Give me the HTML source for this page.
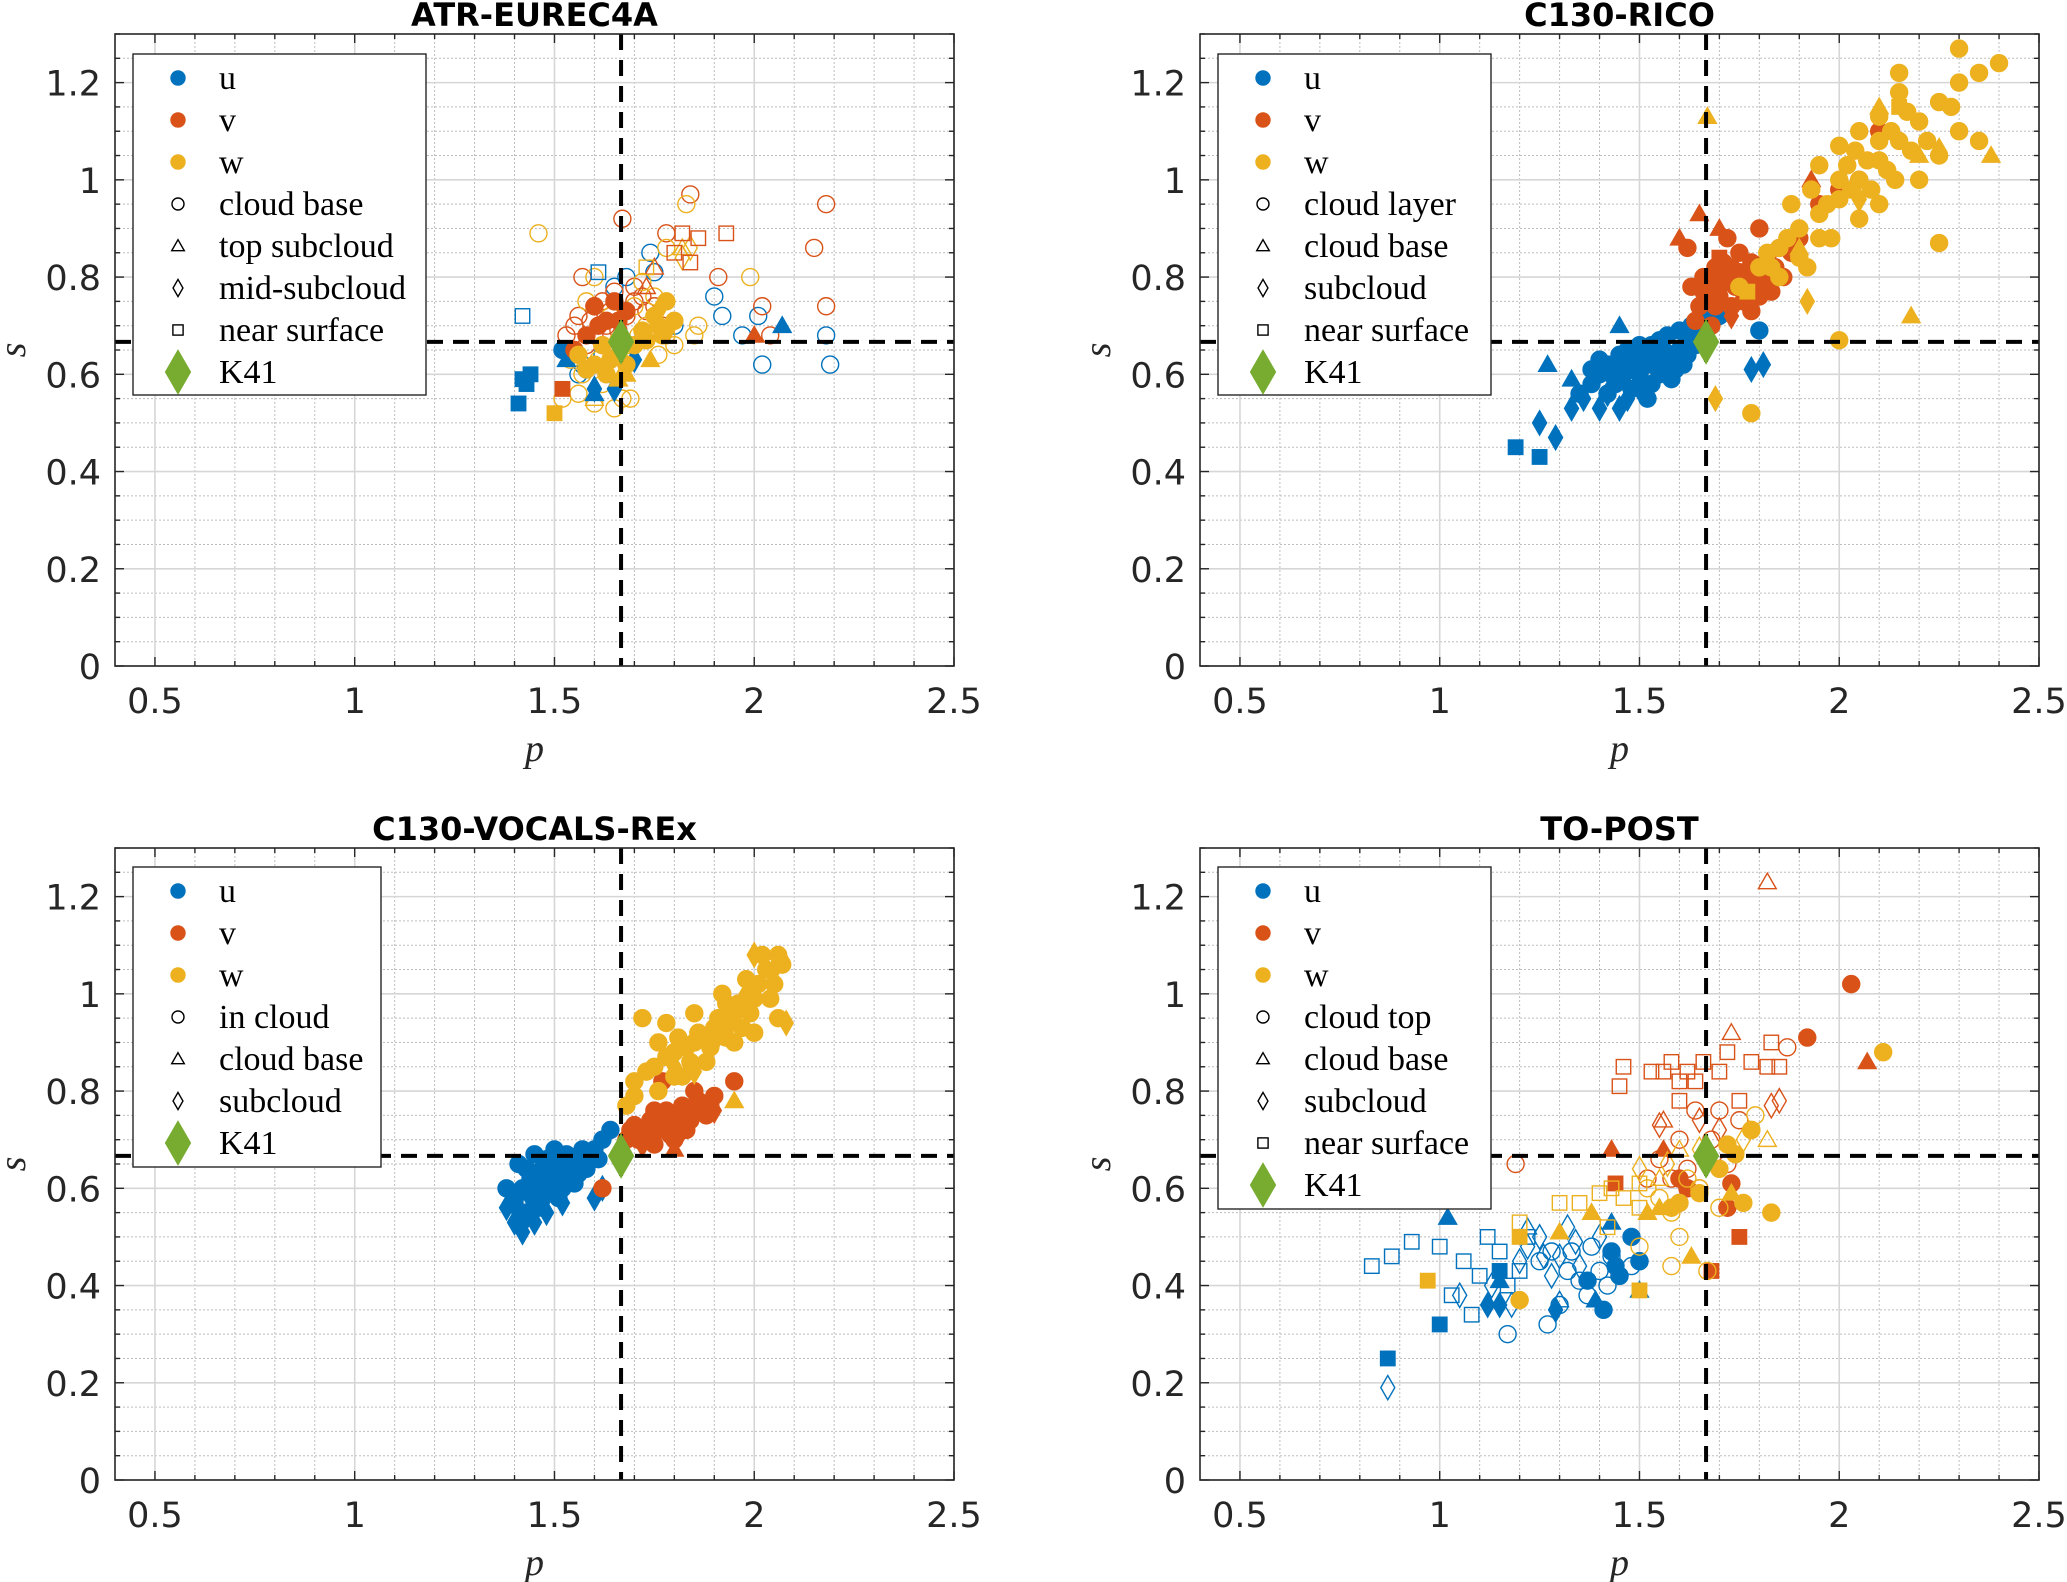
<!DOCTYPE html>
<html><head><meta charset="utf-8">
<style>
html,body{margin:0;padding:0;background:#fff;}
svg{display:block;}
</style></head>
<body>
<svg id="fig" width="2067" height="1582" xmlns="http://www.w3.org/2000/svg"></svg>
<script>
// ---------- DATA ----------
const atr_u_o=[[1.9,0.76],[1.92,0.72],[2.01,0.72],[2.02,0.62],[1.97,0.68],[2.18,0.68],[2.19,0.62],[1.74,0.85],[1.65,0.78],[1.68,0.80],[1.57,0.62],[1.56,0.6],[1.62,0.64],[1.75,0.81],[1.8,0.7]];
const atr_v_o=[[1.84,0.97],[1.78,0.89],[1.67,0.92],[2.18,0.95],[2.15,0.86],[2.18,0.74],[2.02,0.74],[2.04,0.68],[1.91,0.80],[1.57,0.80],[1.6,0.74],[1.65,0.77],[1.7,0.78],[1.72,0.76],[1.55,0.7],[1.53,0.68],[1.58,0.66],[1.63,0.7],[1.68,0.72],[1.75,0.74],[1.77,0.70],[1.6,0.68],[1.62,0.75],[1.66,0.69],[1.56,0.72],[1.59,0.71],[1.64,0.73],[1.7,0.75],[1.73,0.73]];
const atr_w_o=[[1.46,0.89],[1.83,0.95],[1.99,0.80],[1.78,0.86],[1.7,0.74],[1.73,0.7],[1.76,0.64],[1.8,0.66],[1.86,0.7],[1.85,0.68],[1.6,0.8],[1.58,0.75],[1.62,0.58],[1.65,0.53],[1.67,0.55],[1.69,0.55],[1.52,0.55],[1.56,0.56],[1.6,0.54],[1.75,0.76],[1.72,0.79],[1.64,0.72],[1.69,0.66],[1.54,0.63],[1.57,0.6],[1.61,0.63],[1.66,0.67],[1.71,0.68],[1.78,0.68]];
const atr_w_t=[[1.82,0.86],[1.6,0.55]];
const atr_v_t=[[1.75,0.82],[1.73,0.78]];
const atr_w_d=[[1.84,0.86],[1.82,0.84]];
const atr_u_s=[[1.42,0.72],[1.61,0.81]];
const atr_v_s=[[1.8,0.85],[1.82,0.89],[1.86,0.88],[1.93,0.89],[1.84,0.83]];
const atr_w_s=[[1.73,0.82]];
const atr_u_S=[[1.41,0.54],[1.42,0.59],[1.44,0.6],[1.43,0.58]];
const atr_u_T=[[2.07,0.70],[1.53,0.63],[1.6,0.56]];
const atr_u_D=[[1.65,0.57],[1.6,0.57],[1.7,0.63]];
const atr_u_C=[[1.52,0.65],[1.58,0.61]];
const atr_v_S=[[1.52,0.57]];
const atr_v_T=[[2.0,0.68]];
const atr_v_C=[[1.6,0.74],[1.65,0.75],[1.63,0.71],[1.58,0.68],[1.55,0.65],[1.62,0.66],[1.68,0.73],[1.61,0.7],[1.66,0.71]];
const atr_w_S=[[1.5,0.52]];
const atr_w_C=[[1.6,0.62],[1.63,0.6],[1.66,0.64],[1.7,0.66],[1.72,0.69],[1.75,0.72],[1.78,0.75],[1.8,0.71],[1.77,0.68],[1.56,0.64],[1.58,0.61],[1.62,0.66],[1.64,0.63],[1.68,0.62],[1.73,0.67],[1.76,0.7]];
const atr_w_T=[[1.74,0.63],[1.66,0.59],[1.64,0.6],[1.68,0.6]];
const atr_w_D=[[1.76,0.73],[1.79,0.7]];

const rico_u_S=[[1.19,0.45],[1.25,0.43]];
const rico_u_D=[[1.25,0.5],[1.29,0.47],[1.33,0.53],[1.4,0.53],[1.45,0.53],[1.81,0.62],[1.78,0.61],[1.42,0.56],[1.5,0.57],[1.36,0.55],[1.47,0.55]];
const rico_u_T=[[1.27,0.62],[1.33,0.59],[1.45,0.7]];
const rico_u_C=[[1.35,0.56],[1.38,0.58],[1.4,0.6],[1.42,0.62],[1.44,0.58],[1.46,0.6],[1.48,0.63],[1.5,0.6],[1.52,0.62],[1.54,0.64],[1.56,0.61],[1.58,0.63],[1.6,0.65],[1.62,0.67],[1.64,0.66],[1.45,0.64],[1.5,0.66],[1.55,0.67],[1.48,0.57],[1.53,0.58],[1.58,0.59],[1.42,0.56],[1.6,0.69],[1.63,0.7],[1.66,0.72],[1.57,0.68],[1.52,0.55],[1.4,0.63],[1.47,0.61],[1.61,0.62],[1.8,0.69],[1.7,0.72],[1.43,0.6],[1.49,0.61],[1.51,0.64],[1.55,0.6],[1.59,0.61],[1.53,0.66],[1.47,0.65],[1.44,0.62],[1.56,0.65],[1.62,0.64],[1.65,0.68],[1.38,0.61]];
const rico_v_C=[[1.63,0.78],[1.66,0.8],[1.69,0.82],[1.72,0.79],[1.75,0.81],[1.78,0.83],[1.81,0.8],[1.84,0.82],[1.7,0.76],[1.73,0.74],[1.76,0.77],[1.8,0.76],[1.65,0.74],[1.68,0.7],[1.62,0.86],[1.85,0.86],[1.88,0.85],[1.9,0.88],[1.75,0.85],[1.72,0.88],[1.8,0.9],[1.95,0.95],[2.0,0.98],[2.05,1.0],[2.1,1.1],[1.78,0.73],[1.83,0.77],[1.67,0.76],[1.71,0.83],[1.64,0.71],[1.68,0.78],[1.74,0.78],[1.77,0.8],[1.7,0.8],[1.66,0.77],[1.73,0.82],[1.79,0.78],[1.82,0.84],[1.86,0.8],[1.69,0.74],[1.76,0.75]];
const rico_v_T=[[1.65,0.93],[1.6,0.88],[1.7,0.9],[1.93,1.0]];
const rico_v_S=[[1.7,0.84],[1.74,0.8]];
const rico_v_D=[[1.77,0.75],[1.82,0.79],[1.73,0.72]];
const rico_w_C=[[1.75,0.78],[1.8,0.82],[1.85,0.86],[1.9,0.9],[1.95,0.93],[2.0,0.96],[2.05,1.0],[2.1,1.04],[2.15,1.08],[2.2,1.12],[2.25,1.16],[2.3,1.2],[2.35,1.22],[2.4,1.24],[2.3,1.27],[2.15,1.18],[2.1,1.13],[2.05,1.1],[2.0,1.07],[1.95,1.03],[2.2,1.0],[2.25,1.05],[2.3,1.1],[2.35,1.08],[2.1,0.95],[2.05,0.92],[1.98,0.88],[1.92,0.82],[2.25,0.87],[2.0,0.67],[1.78,0.52],[2.15,1.22],[2.28,1.15],[1.88,0.95],[1.93,0.98],[2.12,1.02],[2.18,1.06],[1.85,0.8],[2.02,1.03],[2.08,0.98],[1.82,0.85],[1.87,0.88],[1.97,0.95],[2.03,0.98],[2.07,1.04],[2.13,1.1],[2.17,1.14],[2.22,1.08],[1.9,0.84],[1.95,0.88],[2.0,1.0],[2.04,1.06],[2.1,1.08],[2.14,1.0],[1.83,0.82]];
const rico_w_T=[[1.67,1.13],[2.18,0.72],[2.38,1.05],[2.1,1.15],[1.9,0.86],[2.2,1.05]];
const rico_w_D=[[1.69,0.55],[1.92,0.75],[2.25,1.06],[2.05,0.96]];
const rico_w_S=[[1.77,0.77],[2.15,1.15]];

const voc_u_C=[[1.45,0.58],[1.48,0.6],[1.5,0.62],[1.52,0.64],[1.55,0.66],[1.58,0.67],[1.6,0.68],[1.62,0.7],[1.64,0.72],[1.42,0.6],[1.44,0.62],[1.47,0.64],[1.5,0.66],[1.53,0.67],[1.56,0.63],[1.4,0.57],[1.43,0.55],[1.46,0.56],[1.49,0.59],[1.52,0.6],[1.55,0.61],[1.58,0.64],[1.61,0.66],[1.41,0.65],[1.45,0.67],[1.5,0.68],[1.38,0.6],[1.41,0.59],[1.44,0.6],[1.47,0.62],[1.5,0.63],[1.53,0.62],[1.56,0.65],[1.59,0.66],[1.43,0.64],[1.46,0.58],[1.48,0.66],[1.51,0.58],[1.54,0.64],[1.57,0.68]];
const voc_u_D=[[1.38,0.56],[1.4,0.53],[1.42,0.51],[1.45,0.53],[1.48,0.55],[1.6,0.58],[1.62,0.6],[1.44,0.58],[1.52,0.57],[1.41,0.55],[1.43,0.54],[1.47,0.57]];
const voc_v_C=[[1.68,0.7],[1.72,0.71],[1.76,0.72],[1.8,0.73],[1.84,0.74],[1.88,0.75],[1.7,0.73],[1.74,0.74],[1.78,0.76],[1.82,0.77],[1.86,0.78],[1.9,0.79],[1.75,0.69],[1.8,0.7],[1.62,0.6],[1.77,0.82],[1.85,0.8],[1.95,0.82],[1.71,0.7],[1.73,0.72],[1.77,0.73],[1.79,0.71],[1.83,0.72],[1.87,0.76],[1.81,0.75],[1.75,0.76],[1.69,0.72],[1.85,0.77],[1.89,0.77]];
const voc_v_T=[[1.8,0.68]];
const voc_v_D=[[1.72,0.69],[1.9,0.76],[1.82,0.72]];
const voc_w_C=[[1.68,0.77],[1.7,0.82],[1.75,0.85],[1.8,0.88],[1.85,0.9],[1.9,0.93],[1.95,0.96],[2.0,0.99],[2.05,1.02],[1.72,0.95],[1.78,0.94],[1.85,0.96],[1.92,1.0],[1.98,1.03],[2.03,1.05],[1.88,0.86],[1.95,0.9],[2.0,0.92],[2.06,0.95],[1.82,0.83],[1.76,0.8],[2.07,1.06],[2.02,1.08],[1.93,0.98],[1.86,0.92],[1.7,0.79],[1.73,0.84],[1.78,0.87],[1.83,0.89],[1.87,0.91],[1.91,0.95],[1.96,0.98],[2.01,1.02],[1.97,0.93],[1.93,0.91],[1.89,0.89],[1.84,0.86],[1.8,0.83],[2.04,0.99],[1.99,0.96],[1.94,0.94],[2.06,1.08],[1.81,0.91],[1.76,0.9]];
const voc_w_D=[[1.98,1.0],[2.05,1.05],[2.07,1.07],[2.0,1.08],[1.9,0.9],[1.8,0.85],[1.85,0.84],[2.08,0.94]];
const voc_w_T=[[1.95,0.78]];

const to_u_s=[[0.83,0.44],[0.88,0.46],[0.93,0.49],[1.0,0.48],[1.06,0.45],[1.03,0.38],[1.08,0.34],[1.12,0.5],[1.15,0.47],[1.17,0.4],[1.2,0.43],[1.1,0.42],[1.22,0.5]];
const to_u_d=[[0.87,0.19],[1.05,0.38],[1.18,0.36],[1.2,0.45],[1.25,0.5],[1.3,0.46],[1.35,0.44],[1.4,0.5],[1.28,0.42],[1.22,0.48],[1.32,0.52],[1.13,0.4],[1.26,0.46],[1.34,0.49]];
const to_u_o=[[1.17,0.3],[1.27,0.32],[1.3,0.36],[1.35,0.41],[1.4,0.43],[1.45,0.42],[1.48,0.44],[1.25,0.45],[1.33,0.47],[1.38,0.48],[1.43,0.46],[1.5,0.45],[1.37,0.38],[1.42,0.4],[1.28,0.47],[1.32,0.43]];
const to_u_t=[[1.22,0.52],[1.3,0.37],[1.5,0.39]];
const to_u_S=[[0.87,0.25],[1.0,0.32],[1.15,0.43]];
const to_u_T=[[1.02,0.54],[1.15,0.41],[1.39,0.37],[1.43,0.53]];
const to_u_D=[[1.12,0.36],[1.15,0.36],[1.29,0.35]];
const to_u_C=[[1.41,0.35],[1.45,0.42],[1.48,0.5],[1.5,0.45],[1.37,0.41],[1.43,0.47],[1.44,0.44]];
const to_v_s=[[1.46,0.85],[1.45,0.81],[1.53,0.84],[1.58,0.86],[1.62,0.84],[1.66,0.86],[1.7,0.84],[1.72,0.88],[1.78,0.86],[1.82,0.85],[1.83,0.9],[1.85,0.85],[1.6,0.82],[1.6,0.78],[1.75,0.78],[1.64,0.82],[1.56,0.84]];
const to_v_t=[[1.82,1.23],[1.73,0.92],[1.56,0.74]];
const to_v_d=[[1.55,0.73],[1.85,0.78],[1.83,0.77],[1.7,0.72],[1.65,0.74]];
const to_v_o=[[1.87,0.89],[1.19,0.65],[1.6,0.7],[1.55,0.66],[1.62,0.64],[1.68,0.7],[1.7,0.76],[1.72,0.65],[1.65,0.6],[1.58,0.62],[1.6,0.57],[1.52,0.62],[1.75,0.74],[1.64,0.76]];
const to_v_C=[[2.03,1.02],[1.92,0.91],[1.73,0.61],[1.72,0.56],[1.62,0.6],[1.6,0.62]];
const to_v_T=[[2.07,0.86],[1.43,0.68],[1.56,0.68]];
const to_v_S=[[1.44,0.61],[1.75,0.5],[1.68,0.43]];
const to_w_s=[[0.97,0.58],[1.2,0.53],[1.3,0.57],[1.35,0.57],[1.4,0.59],[1.43,0.6],[1.46,0.58],[1.5,0.56],[1.42,0.52],[1.5,0.61]];
const to_w_o=[[1.52,0.6],[1.55,0.58],[1.58,0.55],[1.62,0.62],[1.65,0.6],[1.7,0.56],[1.79,0.75],[1.78,0.72],[1.6,0.5],[1.58,0.44],[1.67,0.43],[1.5,0.48]];
const to_w_t=[[1.82,0.7],[1.6,0.68],[1.55,0.62]];
const to_w_d=[[1.5,0.64],[1.57,0.65],[1.65,0.68],[1.76,0.7]];
const to_w_C=[[2.11,0.88],[1.83,0.55],[1.78,0.72],[1.74,0.67],[1.76,0.57],[1.58,0.56],[1.6,0.57],[1.65,0.59],[1.2,0.37],[1.7,0.64],[1.72,0.69]];
const to_w_T=[[1.63,0.46],[1.73,0.59],[1.55,0.56],[1.52,0.55],[1.3,0.51],[1.38,0.55]];
const to_w_S=[[0.97,0.41],[1.2,0.5],[1.5,0.39]];

const xTicks=[0.5,1,1.5,2,2.5];
const xTickLabels=['0.5','1','1.5','2','2.5'];
const yTicks=[0,0.2,0.4,0.6,0.8,1,1.2];
const yTickLabels=['0','0.2','0.4','0.6','0.8','1','1.2'];
const k41=[5/3,2/3];

// ---------- DRAW ----------
const NS='http://www.w3.org/2000/svg';
const svg=document.getElementById('fig');
const COL={u:'#0072BD',v:'#D95319',w:'#EDB120'};
function el(tag,attrs,parent){const e=document.createElementNS(NS,tag);for(const k in attrs)e.setAttribute(k,attrs[k]);(parent||svg).appendChild(e);return e;}

function marker(g,shape,cx,cy,color,filled,sz){
  const fill=filled?color:'none', st=color;
  const r=sz||8;let e;
  if(shape==='o'){e=el('circle',{cx:cx,cy:cy,r:r,fill:fill,stroke:st,'stroke-width':1.4},g);}
  else if(shape==='s'){const h=r*0.85;e=el('rect',{x:cx-h,y:cy-h,width:2*h,height:2*h,fill:fill,stroke:st,'stroke-width':1.4},g);}
  else if(shape==='t'){const h=r*1.05;e=el('polygon',{points:`${cx},${cy-h} ${cx+h},${cy+h*0.75} ${cx-h},${cy+h*0.75}`,fill:fill,stroke:st,'stroke-width':1.4},g);}
  else if(shape==='d'){const h=r*1.1;e=el('polygon',{points:`${cx},${cy-h*1.3} ${cx+h*0.75},${cy} ${cx},${cy+h*1.3} ${cx-h*0.75},${cy}`,fill:fill,stroke:st,'stroke-width':1.4},g);}
  return e;
}

const panels=[
 {name:'atr-eurec4a',title:'ATR-EUREC4A',L:115,T:34,leg:{x:133,y:54,w:293,h:341},labels:['cloud base','top subcloud','mid-subcloud','near surface'],shapes:['o','t','d','s'],
  series:[['u','o',0,atr_u_o],['v','o',0,atr_v_o],['w','o',0,atr_w_o],['w','t',0,atr_w_t],['v','t',0,atr_v_t],['w','d',0,atr_w_d],['u','s',0,atr_u_s],['v','s',0,atr_v_s],['w','s',0,atr_w_s],
  ['u','s',1,atr_u_S],['u','t',1,atr_u_T],['u','d',1,atr_u_D],['u','o',1,atr_u_C],['v','s',1,atr_v_S],['v','t',1,atr_v_T],['v','o',1,atr_v_C],['w','s',1,atr_w_S],['w','o',1,atr_w_C],['w','t',1,atr_w_T],['w','d',1,atr_w_D]]},
 {name:'c130-rico',title:'C130-RICO',L:1200,T:34,leg:{x:1218,y:54,w:273,h:341},labels:['cloud layer','cloud base','subcloud','near surface'],shapes:['o','t','d','s'],
  series:[['u','s',1,rico_u_S],['u','d',1,rico_u_D],['u','t',1,rico_u_T],['u','o',1,rico_u_C],['v','o',1,rico_v_C],['v','t',1,rico_v_T],['v','s',1,rico_v_S],['v','d',1,rico_v_D],['w','o',1,rico_w_C],['w','t',1,rico_w_T],['w','d',1,rico_w_D],['w','s',1,rico_w_S]]},
 {name:'c130-vocals-rex',title:'C130-VOCALS-REx',L:115,T:848,leg:{x:133,y:867,w:248,h:300},labels:['in cloud','cloud base','subcloud'],shapes:['o','t','d'],
  series:[['u','o',1,voc_u_C],['u','d',1,voc_u_D],['v','o',1,voc_v_C],['v','t',1,voc_v_T],['v','d',1,voc_v_D],['w','o',1,voc_w_C],['w','d',1,voc_w_D],['w','t',1,voc_w_T]]},
 {name:'to-post',title:'TO-POST',L:1200,T:848,leg:{x:1218,y:867,w:273,h:342},labels:['cloud top','cloud base','subcloud','near surface'],shapes:['o','t','d','s'],
  series:[['u','s',0,to_u_s],['u','d',0,to_u_d],['u','o',0,to_u_o],['u','t',0,to_u_t],['u','s',1,to_u_S],['u','t',1,to_u_T],['u','d',1,to_u_D],['u','o',1,to_u_C],
   ['v','s',0,to_v_s],['v','t',0,to_v_t],['v','d',0,to_v_d],['v','o',0,to_v_o],['v','o',1,to_v_C],['v','t',1,to_v_T],['v','s',1,to_v_S],
   ['w','s',0,to_w_s],['w','o',0,to_w_o],['w','t',0,to_w_t],['w','d',0,to_w_d],['w','o',1,to_w_C],['w','t',1,to_w_T],['w','s',1,to_w_S]]}
];

const W=839,H=632;
panels.forEach(P=>{
  const g=el('g',{});
  
  
  const L=P.L,T=P.T,R=L+W,B=T+H;
  const X=p=>L+(p-0.4)/2.1*W;
  const Y=s=>B-s/1.3*H;
  el('rect',{x:L,y:T,width:W,height:H,fill:'#fff'},g);
  for(let i=5;i<=25;i++){if(i%5===0)continue;const x=X(i/10);el('line',{x1:x,y1:T,x2:x,y2:B,stroke:'#bdbdbd','stroke-width':1,'stroke-dasharray':'2 2'},g);}
  for(let i=1;i<26;i++){if(i%4===0)continue;const y=Y(i*0.05);el('line',{x1:L,y1:y,x2:R,y2:y,stroke:'#bdbdbd','stroke-width':1,'stroke-dasharray':'2 2'},g);}
  xTicks.forEach(t=>{const x=X(t);el('line',{x1:x,y1:T,x2:x,y2:B,stroke:'#d6d6d6','stroke-width':1.6},g);});
  yTicks.forEach(t=>{const y=Y(t);el('line',{x1:L,y1:y,x2:R,y2:y,stroke:'#d6d6d6','stroke-width':1.6},g);});
  const dg=el('g',{},g);
  
  
  P.series.forEach(sr=>{
    const [v,sh,f,arr]=sr;
    arr.forEach(pt=>{
      const m=marker(dg,sh,X(pt[0]),Y(pt[1]),COL[v],!!f,8.5);
      
      
    });
  });
  const hl=el('line',{x1:L,y1:Y(k41[1]),x2:R,y2:Y(k41[1]),stroke:'#000','stroke-width':4,'stroke-dasharray':'16 10'},g);
  
  
  const vl=el('line',{x1:X(k41[0]),y1:T,x2:X(k41[0]),y2:B,stroke:'#000','stroke-width':4,'stroke-dasharray':'16 10'},g);
  
  
  const kd=marker(g,'d',X(k41[0]),Y(k41[1]),'#77AC30',true,15);
  
  
  el('rect',{x:L,y:T,width:W,height:H,fill:'none',stroke:'#262626','stroke-width':1.6},g);
  for(let i=5;i<=25;i++){const x=X(i/10);const len=i%5===0?9:5;el('line',{x1:x,y1:B,x2:x,y2:B-len,stroke:'#262626','stroke-width':1.4},g);el('line',{x1:x,y1:T,x2:x,y2:T+len,stroke:'#262626','stroke-width':1.4},g);}
  for(let i=0;i<=26;i++){const y=Y(i*0.05);const len=i%4===0?9:5;el('line',{x1:L,y1:y,x2:L+len,y2:y,stroke:'#262626','stroke-width':1.4},g);el('line',{x1:R,y1:y,x2:R-len,y2:y,stroke:'#262626','stroke-width':1.4},g);}
  xTicks.forEach((t,i)=>{const tx=el('text',{x:X(t),y:B+47,'text-anchor':'middle','font-family':'"DejaVu Sans","Liberation Sans",sans-serif','font-size':35,fill:'#262626'},g);tx.textContent=xTickLabels[i];
    });
  yTicks.forEach((t,i)=>{const tx=el('text',{x:L-14,y:Y(t)+13,'text-anchor':'end','font-family':'"DejaVu Sans","Liberation Sans",sans-serif','font-size':35,fill:'#262626'},g);tx.textContent=yTickLabels[i];
    });
  const xl=el('text',{x:L+W/2,y:B+95,'text-anchor':'middle','font-family':'"Liberation Serif",serif','font-style':'italic','font-size':38,fill:'#262626'},g);xl.textContent='p';
  
  const yl=el('text',{x:0,y:0,transform:`translate(${L-90},${T+H/2}) rotate(-90)`,'text-anchor':'middle','font-family':'"Liberation Serif",serif','font-style':'italic','font-size':38,fill:'#262626'},g);yl.textContent='s';
  
  const tt=el('text',{x:L+W/2,y:T-8,'text-anchor':'middle','font-family':'"DejaVu Sans","Liberation Sans",sans-serif','font-weight':'bold','font-size':32,fill:'#000'},g);tt.textContent=P.title;
  
  const lg=el('g',{},g);
  
  
  const Lg=P.leg;
  el('rect',{x:Lg.x,y:Lg.y,width:Lg.w,height:Lg.h,fill:'#fff',stroke:'#262626','stroke-width':1.4},lg);
  const entries=[['u','c','u'],['v','c','v'],['w','c','w']];
  P.labels.forEach((lab,i)=>entries.push([lab,P.shapes[i],null]));
  entries.push(['K41','k',null]);
  entries.forEach((en,i)=>{
    const cy=Lg.y+24+i*42;
    const mx=Lg.x+45;
    const eg=el('g',{},lg);
    
    
    if(en[1]==='c') marker(eg,'o',mx,cy,COL[en[2]],true,7);
    else if(en[1]==='k') marker(eg,'d',mx,cy,'#77AC30',true,15);
    else marker(eg,en[1],mx,cy,'#000',false,6);
    const tx=el('text',{x:Lg.x+86,y:cy+11,'font-family':'"Liberation Serif",serif','font-size':34,fill:'#000'},eg);
    tx.textContent=en[0];
  });
});
</script>
</body></html>
